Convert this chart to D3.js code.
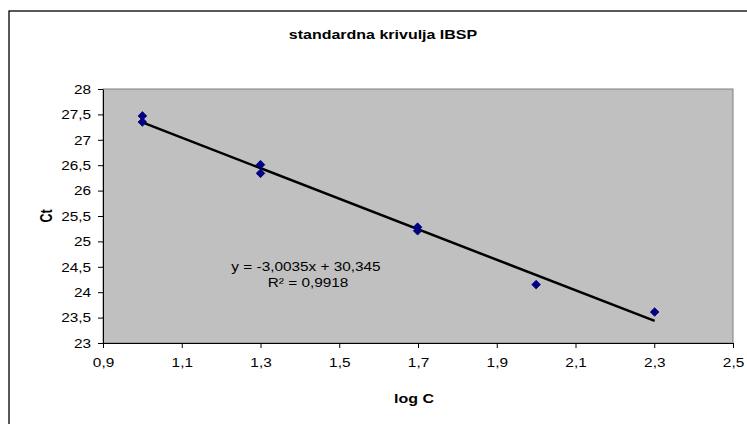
<!DOCTYPE html>
<html>
<head>
<meta charset="utf-8">
<script src="https://cdn.jsdelivr.net/npm/d3@7"></script>
<style>
html,body{margin:0;padding:0;background:#fff;}
svg{display:block;font-family:"Liberation Sans",Arial,sans-serif;}
</style>
</head>
<body>
<svg id="chart" width="747" height="424"></svg>
<script>
const logC = [1, 1, 1.3, 1.3, 1.699, 1.699, 2, 2.301];
const ct = [27.47, 27.35, 26.51, 26.34, 25.28, 25.21, 24.15, 23.61];
const xTicks = [0.9, 1.1, 1.3, 1.5, 1.7, 1.9, 2.1, 2.3, 2.5];
const yTicks = [23, 23.5, 24, 24.5, 25, 25.5, 26, 26.5, 27, 27.5, 28];
const slope = -3.0035, intercept = 30.345;
const eqLines = ["y = -3,0035x + 30,345", "R² = 0,9918"];
const title = "standardna krivulja IBSP";

const SX = 1.28; // horizontal stretch of the text in the original
const svg = d3.select("#chart");
const L = 103, R = 733, T = 89, B = 343;
const x = d3.scaleLinear().domain([0.9, 2.5]).range([L, R]);
const y = d3.scaleLinear().domain([23, 28]).range([B, T]);
const fmt = d => String(d).replace(".", ",");

// outer border
svg.append("rect").attr("x", 9).attr("y", 11).attr("width", 760).attr("height", 430)
  .attr("fill", "#fff").attr("stroke", "#000").attr("stroke-width", 1.3);

// plot area
svg.append("rect").attr("x", L).attr("y", T).attr("width", R - L).attr("height", B - T)
  .attr("fill", "#C0C0C0").attr("stroke", "#808080").attr("stroke-width", 1);

// axes
const xAxis = d3.axisBottom(x).tickValues(xTicks).tickFormat(fmt).tickSizeInner(5).tickSizeOuter(0).tickPadding(10);
const yAxis = d3.axisLeft(y).tickValues(yTicks).tickFormat(fmt).tickSizeInner(5).tickSizeOuter(0);
const gx = svg.append("g").attr("transform", `translate(0,${B})`).call(xAxis);
const gy = svg.append("g").attr("transform", `translate(${L},0)`).call(yAxis);
[gx, gy].forEach(g => {
  g.select(".domain").attr("stroke", "#000").attr("stroke-width", 1);
  g.selectAll(".tick line").attr("stroke", "#000");
  g.selectAll(".tick text").attr("font-size", 12).attr("fill", "#000")
    .attr("font-family", "'Liberation Sans',Arial,sans-serif")
    .attr("transform", `scale(${SX},1)`);
});
gy.selectAll(".tick text").attr("dy", "0.35em").attr("x", -12 / SX);

// trendline
const xs = d3.extent(logC);
svg.append("line")
  .attr("x1", x(xs[0])).attr("y1", y(slope * xs[0] + intercept))
  .attr("x2", x(xs[1])).attr("y2", y(slope * xs[1] + intercept))
  .attr("stroke", "#000").attr("stroke-width", 2.5);

// points
const sym = d3.symbol().type(d3.symbolDiamond2).size(48);
svg.append("g").selectAll("path").data(logC.map((d, i) => [d, ct[i]])).join("path")
  .attr("d", sym)
  .attr("transform", d => `translate(${x(d[0])},${y(d[1])})`)
  .attr("fill", "#000080").attr("stroke", "#000080").attr("stroke-width", 0.8);

function stretchedText(tx, ty, str, size, bold) {
  svg.append("text").attr("transform", `translate(${tx},${ty}) scale(${SX},1)`)
    .attr("text-anchor", "middle").attr("font-size", size)
    .attr("font-weight", bold ? "bold" : "normal").text(str);
}

// equation
stretchedText(306, 271, eqLines[0], 12, false);
stretchedText(308, 287, eqLines[1], 12, false);

// title
stretchedText(383, 39, title, 12.5, true);

// axis titles
stretchedText(414, 403, "log C", 12.5, true);
svg.append("text").attr("transform", `translate(52,216) rotate(-90) scale(1,${SX})`).attr("text-anchor", "middle")
  .attr("font-size", 12.5).attr("font-weight", "bold").text("Ct");
</script>
</body>
</html>
